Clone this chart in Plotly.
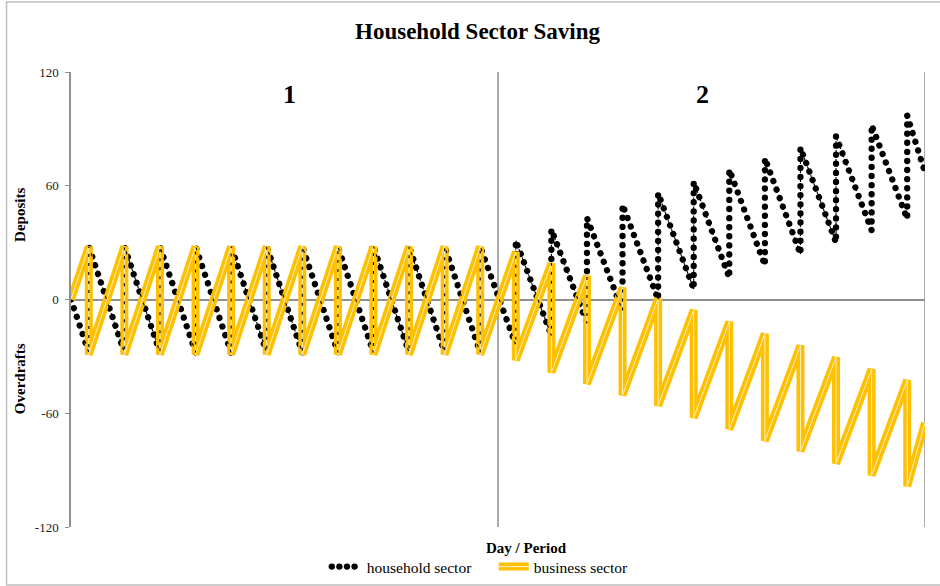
import plotly.graph_objects as go

# ---- data ----
switch_days = [15, 45, 75, 105, 135, 165, 195, 225, 255, 285, 315, 345,
               375, 405, 435, 465, 495, 525, 555, 585, 615, 645, 675, 705]
start_day = 0
end_day = 720

business_start = 0
business_before_drop = [28, 28, 28, 28, 28, 28, 28, 28, 28, 28, 28, 28,
                        25, 19, 12.5, 6.3, 0.5, -5.6, -11.8, -18, -24.3, -30.5, -36.8, -42.6]
business_after_drop = [-29, -29, -29, -29, -29, -29, -29, -29, -29, -29, -29, -29,
                       -32, -38.5, -44.5, -50.5, -56, -62.4, -68.5, -74.5, -80, -86.5, -92.7, -98.5]
business_end = -65

household_start = 0
household_before_jump = [-28, -28, -28, -28, -28, -28, -28, -28, -28, -28, -28, -28,
                         -24, -19, -12.5, -6, 0, 5.5, 11.5, 18, 24, 30, 36.5, 42.5]
household_after_jump = [28, 28, 28, 28, 28, 28, 28, 28, 28, 28, 28, 28,
                        31, 37, 43, 50, 56, 62, 68.5, 74.5, 80, 86, 92, 97]
household_end = 67

period_bounds = [360, 720]
period_labels = ["1", "2"]
period_label_days = [184, 532]
y_ticks = [-120, -60, 0, 60, 120]


def build(start, before, after, end):
    xs, ys = [start_day], [start]
    for d, b, a in zip(switch_days, before, after):
        xs += [d, d]
        ys += [b, a]
    xs.append(end_day)
    ys.append(end)
    return xs, ys


hx, hy = build(household_start, household_before_jump, household_after_jump, household_end)
bx, by = build(business_start, business_before_drop, business_after_drop, business_end)

SERIF = "Liberation Serif, Times New Roman, serif"
GRAY = "#8f8f8f"
YELLOW = "#FFC000"
CORE = "#fff4d6"

fig = go.Figure()
fig.add_trace(go.Scatter(x=hx, y=hy, mode="lines", name="household sector",
                         line=dict(color="black", width=6.3, dash="5px,2.5px")))
fig.add_trace(go.Scatter(x=bx, y=by, mode="lines", name="business sector",
                         line=dict(color=YELLOW, width=8)))
fig.add_trace(go.Scatter(x=bx, y=by, mode="lines", showlegend=False, hoverinfo="skip",
                         line=dict(color=CORE, width=0.9)))
fig.add_trace(go.Scatter(x=hx, y=hy, mode="lines", showlegend=False, hoverinfo="skip",
                         line=dict(color="black", width=1.1, dash="3px,6px")))

shapes = []
for d in period_bounds:
    shapes.append(dict(type="line", xref="x", yref="y", x0=d, x1=d, y0=-120, y1=120,
                       line=dict(color=GRAY, width=1.5), layer="below"))
# outer chart border
shapes.append(dict(type="rect", xref="paper", yref="paper",
                   x0=-0.0755, x1=1.2, y0=-0.1275, y1=1.154,
                   line=dict(color="#bdbdbd", width=1.5), layer="below"))

annotations = []
for lab, d in zip(period_labels, period_label_days):
    annotations.append(dict(x=d, y=108, xref="x", yref="y", text="<b>" + lab + "</b>",
                            showarrow=False, xanchor="center", yanchor="middle",
                            font=dict(family=SERIF, size=26, color="black")))
annotations += [
    dict(x=-0.0597, y=0.686, xref="paper", yref="paper", text="<b>Deposits</b>",
         textangle=-90, showarrow=False, xanchor="center", yanchor="middle",
         font=dict(family=SERIF, size=15, color="black")),
    dict(x=-0.0597, y=0.325, xref="paper", yref="paper", text="<b>Overdrafts</b>",
         textangle=-90, showarrow=False, xanchor="center", yanchor="middle",
         font=dict(family=SERIF, size=15, color="black")),
    dict(x=0.533, y=-0.046, xref="paper", yref="paper", text="<b>Day / Period</b>",
         showarrow=False, xanchor="center", yanchor="middle",
         font=dict(family=SERIF, size=15, color="black")),
]

fig.update_layout(
    width=940, height=586,
    paper_bgcolor="white", plot_bgcolor="white",
    margin=dict(l=71, r=15, t=72, b=59, autoexpand=False),
    title=dict(text="<b>Household Sector Saving</b>", x=0.508, xanchor="center",
               y=0.947, yanchor="middle",
               font=dict(family=SERIF, size=23, color="black")),
    showlegend=True,
    legend=dict(orientation="h", x=0.495, xanchor="center", y=-0.088, yanchor="middle",
                font=dict(family=SERIF, size=15.5, color="black"),
                bgcolor="rgba(0,0,0,0)", itemwidth=30, tracegroupgap=0,
                entrywidth=122, entrywidthmode="pixels"),
    shapes=shapes,
    annotations=annotations,
    xaxis=dict(range=[start_day, end_day], showgrid=False, zeroline=False,
               showticklabels=False, ticks="", showline=False, automargin=False),
    yaxis=dict(range=[-120, 120], tickvals=y_ticks, ticktext=[str(v) for v in y_ticks],
               showgrid=False, zeroline=True, zerolinecolor=GRAY, zerolinewidth=1.5,
               showline=True, linecolor=GRAY, linewidth=1.5, automargin=False,
               ticks="outside", ticklen=4, tickcolor=GRAY, tickwidth=1,
               tickfont=dict(family=SERIF, size=13, color="#222"), ticklabelstandoff=4),
)

post = """
var gd = document.getElementById('{plot_id}') || document;
gd.querySelectorAll('path').forEach(function(p){
  var d = (p.style.strokeDasharray || '').replace(/\\s/g, '');
  if (d === '5px,2.5px') {
    var inLegend = p.closest && p.closest('.legend');
    p.style.strokeDasharray = inLegend ? '0.1px,7.5px' : '0.1px,9px';
    p.style.strokeLinecap = 'round';
  }
  if (d === '3px,6px') { p.style.strokeDashoffset = '1.5px'; }
});
var tr = gd.querySelectorAll('.legend .traces');
if (tr.length > 1) {
  var lp = tr[1].querySelector('.legendlines path');
  if (lp) { var c = lp.cloneNode(true); c.style.stroke = '#fff4d6'; c.style.strokeWidth = '1px'; lp.parentNode.appendChild(c); }
}
"""

fig.write_html("out.html", post_script=post)
